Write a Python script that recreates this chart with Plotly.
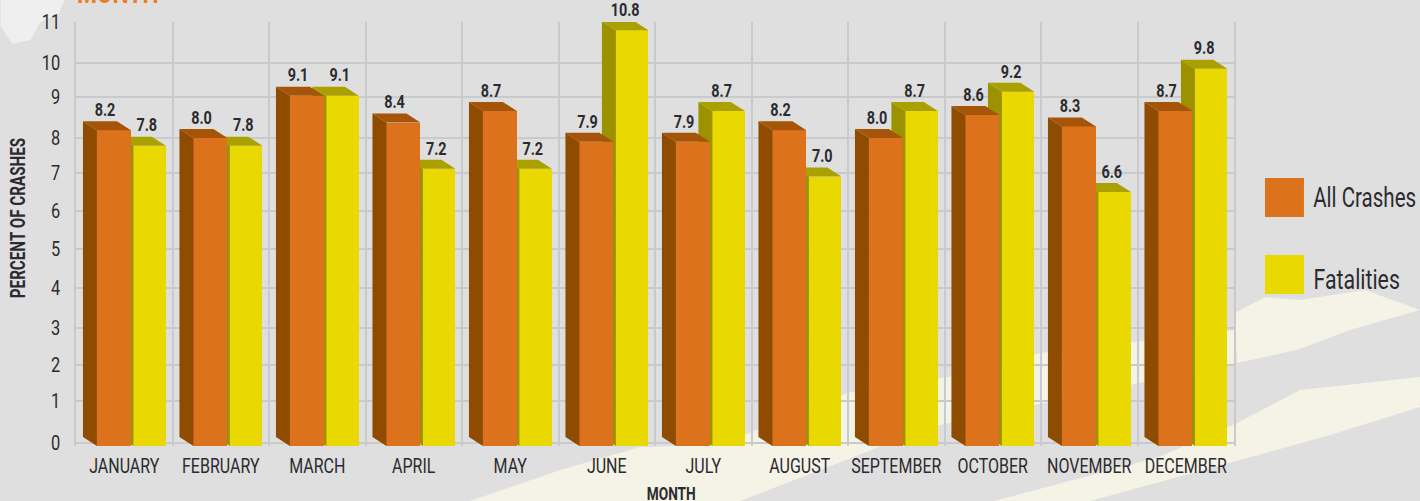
import plotly.graph_objects as go

# ---- data ----
months = ["JANUARY", "FEBRUARY", "MARCH", "APRIL", "MAY", "JUNE", "JULY", "AUGUST",
          "SEPTEMBER", "OCTOBER", "NOVEMBER", "DECEMBER"]
all_crashes = [8.2, 8.0, 9.1, 8.4, 8.7, 7.9, 7.9, 8.2, 8.0, 8.6, 8.3, 8.7]
fatalities = [7.8, 7.8, 9.1, 7.2, 7.2, 10.8, 8.7, 7.0, 8.7, 9.2, 6.6, 9.8]
y_tick_labels = ["0", "1", "2", "3", "4", "5", "6", "7", "8", "9", "10", "11"]
y_tick_values = [0.08, 1.17, 2.10, 3.06, 4.10, 5.12, 6.10, 7.09, 8.00, 9.06, 9.95, 11.01]

W, H = 1420, 501
L, R, T, B = 75.5, 1234.0, 22.0, 446.0
FONT = "Roboto, 'Liberation Sans', sans-serif"
INK = "#2b2b2f"
BG = "#dfdfdf"
GRID = "#c9cacb"
Y_RANGE = [0, 11.013]
X_RANGE = [-0.5, 11.5]
DX, DY = -0.145, 0.234          # oblique depth of the pseudo-3D bars, in axis units
O_OFF, O_W = -0.283, 0.352
Y_OFF, Y_W = 0.095, 0.336
xs = list(range(len(months)))


def faces(values, off, width):
    sx, sy, tx, ty = [], [], [], []
    for i, v in zip(xs, values):
        x0, x1 = i + off, i + off + width
        sx += [x0, x0 + DX, x0 + DX, x0, x0, None]
        sy += [0, DY, v + DY, v, 0, None]
        tx += [x0, x0 + DX, x1 + DX, x1, x0, None]
        ty += [v, v + DY, v + DY, v, v, None]
    return sx, sy, tx, ty


def poly(x, y, color, xa, ya):
    return go.Scatter(x=x, y=y, xaxis=xa, yaxis=ya, mode="lines", fill="toself", fillcolor=color,
                      line=dict(width=0), cliponaxis=False, hoverinfo="skip", showlegend=False)


def labels(x, values):
    # an invisible marker lifts each label clear of the bar's top face
    return go.Scatter(x=x, y=values, text=[f"{v:.1f}" for v in values], mode="markers+text",
                      marker=dict(size=14, opacity=0), textposition="top center",
                      textfont=dict(family=FONT, size=18, color=INK, weight="bold"),
                      xaxis="x2", yaxis="y2", cliponaxis=False, showlegend=False, hoverinfo="skip")


fig = go.Figure()

# yellow series in the base subplot
sx, sy, tx, ty = faces(fatalities, Y_OFF, Y_W)
fig.add_trace(go.Bar(x=xs, y=fatalities, name="Fatalities", width=Y_W, offset=Y_OFF,
                     marker=dict(color="#e9d900", line=dict(width=0)), cliponaxis=False, showlegend=False))
fig.add_trace(poly(sx, sy, "#9c9200", "x", "y"))
fig.add_trace(poly(tx, ty, "#aaa000", "x", "y"))

# orange series in an overlaid subplot so that it sits in front of the yellow depth faces
sx, sy, tx, ty = faces(all_crashes, O_OFF, O_W)
fig.add_trace(go.Bar(x=xs, y=all_crashes, name="All Crashes", width=O_W, offset=O_OFF, xaxis="x2", yaxis="y2",
                     marker=dict(color="#dc731c", line=dict(width=0)), cliponaxis=False, showlegend=False))
fig.add_trace(poly(sx, sy, "#8f4b00", "x2", "y2"))
fig.add_trace(poly(tx, ty, "#a65408", "x2", "y2"))

# value labels
fig.add_trace(labels([i + O_OFF + (DX + O_W) / 2 - 0.02 for i in xs], all_crashes))
fig.add_trace(labels([i + Y_OFF + (DX + Y_W) / 2 if f > a else i + Y_OFF + Y_W / 2 - 0.03
                      for i, f, a in zip(xs, fatalities, all_crashes)], fatalities))


def to_paper(x, y):
    return (x - L) / (R - L), 1 - (y - T) / (B - T)


def blob(points, color):
    parts = []
    for k, (x, y) in enumerate(points):
        a, b = to_paper(x, y)
        parts.append(("M" if k == 0 else "L") + f"{a:.5f},{b:.5f}")
    return dict(type="path", xref="paper", yref="paper", path=" ".join(parts) + " Z",
                fillcolor=color, line=dict(width=0), layer="below")


CREAM = "#f4f3e6"
shapes = [
    blob([(0, 0), (64, 0), (58, 14), (40, 22), (30, 40), (12, 44), (0, 26)], "#efefef"),
    blob([(1235, 313), (1265, 297), (1300, 300), (1365, 290), (1420, 310), (1350, 330), (1297, 350), (1237, 363)], CREAM),
    blob([(1237, 423), (1300, 390), (1420, 377), (1420, 407), (1330, 435), (1251, 457), (1090, 501), (994, 501), (1159, 457)], CREAM),
    blob([(470, 501), (560, 470), (640, 447), (720, 445), (847, 393), (948, 377), (1040, 353),
          (1235, 330), (1235, 363), (1049, 402), (930, 427), (838, 463), (740, 501)], CREAM),
]


def swatch(x0, y0, x1, y1, color):
    a0, b0 = to_paper(x0, y1)
    a1, b1 = to_paper(x1, y0)
    return dict(type="rect", xref="paper", yref="paper", x0=a0, x1=a1, y0=b0, y1=b1,
                fillcolor=color, line=dict(width=0), layer="above")


shapes += [swatch(1265, 178, 1304, 217, "#dc731c"), swatch(1265, 255, 1304, 294, "#e9d900")]


def note(x, y, text, size, color=INK, bold=False, angle=0):
    a, b = to_paper(x, y)
    return dict(xref="paper", yref="paper", x=a, y=b, text=text, showarrow=False, xanchor="center",
                yanchor="middle", textangle=angle,
                font=dict(family=FONT, size=size, color=color, weight="bold" if bold else "normal"))


annotations = [
    note(1365, 198, "All Crashes", 27),
    note(1357, 279, "Fatalities", 28),
    note(671, 493, "MONTH", 18, bold=True),
    note(17, 218, "PERCENT OF CRASHES", 20, bold=True, angle=-90),
    note(117, -7, "MONTH", 30, color="#f07c1e", bold=True),
]

fig.update_layout(
    width=W, height=H, autosize=False, showlegend=False,
    margin=dict(l=L, r=W - R, t=T, b=H - B, pad=0),
    paper_bgcolor=BG, plot_bgcolor="rgba(0,0,0,0)",
    barmode="overlay", bargap=0, shapes=shapes, annotations=annotations,
    font=dict(family=FONT, color=INK),
    xaxis=dict(range=X_RANGE, tickmode="array", tickvals=xs, ticktext=months, showgrid=False, zeroline=False,
               showline=False, ticks="", ticklabelstandoff=6,
               automargin=False, tickangle=0, tickfont=dict(family=FONT, size=20, color=INK),
               minor=dict(tickmode="array", tickvals=[i - 0.5 for i in xs[1:]], showgrid=True,
                          gridcolor=GRID, gridwidth=1.5, ticks="")),
    yaxis=dict(range=Y_RANGE, tickmode="array", tickvals=y_tick_values, ticktext=y_tick_labels, showgrid=True,
               gridcolor=GRID, gridwidth=1.5, zeroline=False, showline=True, mirror=True, linecolor=GRID,
               linewidth=1.5, ticks="", ticklabelstandoff=10, automargin=False,
               tickfont=dict(family=FONT, size=20, color=INK)),
    xaxis2=dict(range=X_RANGE, overlaying="x", visible=False, showgrid=False, zeroline=False),
    yaxis2=dict(range=Y_RANGE, overlaying="y", visible=False, showgrid=False, zeroline=False),
)

# The reference uses a condensed gothic face; none is installed, so the real text is narrowed in place.
condense = """
document.body.style.margin='0';
(function(){
  var rules=[['.xtick text',0.8],['.ytick text',0.82],['.textpoint text',0.8],['.annotation-text',0.76]];
  function run(){rules.forEach(function(r){document.querySelectorAll(r[0]).forEach(function(t){
    if(t.getAttribute('data-c'))return;
    var n=t.getComputedTextLength();
    if(n>0){t.setAttribute('textLength',n*r[1]);t.setAttribute('lengthAdjust','spacingAndGlyphs');t.setAttribute('data-c','1');}
  });});
  document.querySelectorAll('.annotation [clip-path]').forEach(function(e){e.removeAttribute('clip-path');});}
  run();setTimeout(run,200);
})();
"""
fig.write_html("out.html", post_script=condense, config=dict(displayModeBar=False))
